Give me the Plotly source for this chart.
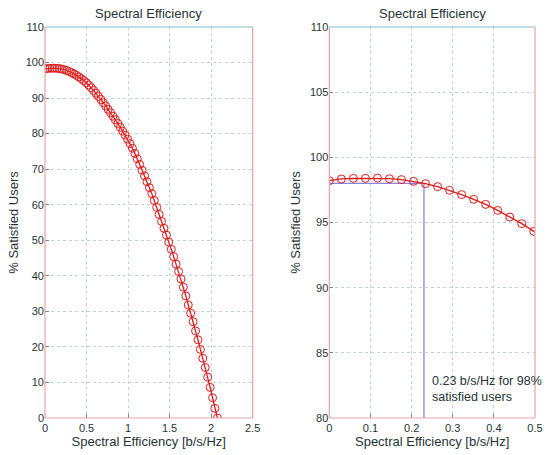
import numpy as np
import plotly.graph_objects as go

# ---- data ----
n_points = 72
x_max = 2.076
se = np.linspace(0, x_max, n_points)  # spectral efficiency sample grid [b/s/Hz]

satisfied = [
    98.21, 98.34, 98.39, 98.39, 98.41, 98.36, 98.29, 98.16, 97.98, 97.75,
    97.47, 97.14, 96.78, 96.39, 95.93, 95.42, 94.91, 94.32, 93.66, 92.94,
    92.17, 91.36, 90.50, 89.60, 88.70, 87.78, 86.84, 85.88, 84.90, 83.90,
    82.86, 81.80, 80.72, 79.60, 78.44, 77.20, 75.90, 74.45, 72.92, 71.34,
    69.70, 68.10, 66.46, 64.79, 63.10, 61.20, 59.25, 57.28, 55.30, 53.37,
    51.44, 49.50, 47.46, 45.39, 43.30, 41.22, 39.10, 36.80, 34.35, 31.80,
    29.50, 27.10, 24.50, 22.00, 19.30, 16.80, 14.20, 11.50, 8.60, 5.70,
    2.70, 0.00,
]

target_se = 0.23
target_pct = 98
note = "0.23 b/s/Hz for 98%<br>satisfied users"

left_xticks = [0, 0.5, 1, 1.5, 2, 2.5]
left_xticklabels = ["0", "0.5", "1", "1.5", "2", "2.5"]
left_yticks = [0, 10, 20, 30, 40, 50, 60, 70, 80, 90, 100, 110]
right_xticks = [0, 0.1, 0.2, 0.3, 0.4, 0.5]
right_xticklabels = ["0", "0.1", "0.2", "0.3", "0.4", "0.5"]
right_yticks = [80, 85, 90, 95, 100, 105, 110]

title_text = "Spectral Efficiency"
xlabel = "Spectral Efficiency [b/s/Hz]"
ylabel = "% Satisfied Users"

# ---- style ----
RED = "#de1a1a"
LAV = "#8c84dc"
TXT = "#1f3434"
GRID = "#c4d4d4"
PINK = "#e6a3a3"
TEAL = "#7fc0c0"
FONT = "Liberation Sans, Arial, sans-serif"

fig = go.Figure()

marker = dict(symbol="circle-open", size=8, color=RED, line=dict(width=1, color=RED))

fig.add_trace(go.Scatter(x=se, y=satisfied, mode="lines+markers",
                         line=dict(color=RED, width=1.3), marker=marker,
                         xaxis="x", yaxis="y", showlegend=False, cliponaxis=True))

fig.add_trace(go.Scatter(x=[0, target_se, target_se], y=[target_pct, target_pct, 80],
                         mode="lines", line=dict(color=LAV, width=1.3),
                         xaxis="x2", yaxis="y2", showlegend=False))

fig.add_trace(go.Scatter(x=se, y=satisfied, mode="lines+markers",
                         line=dict(color=RED, width=1.3), marker=marker,
                         xaxis="x2", yaxis="y2", showlegend=False, cliponaxis=True))

axis_common = dict(
    showgrid=True, gridcolor=GRID, griddash="dot", gridwidth=1,
    zeroline=False, showline=False, ticks="inside", ticklen=4,
    tickcolor="#6a8a8a", tickfont=dict(family=FONT, size=11, color=TXT),
    title_font=dict(family=FONT, size=13, color=TXT),
)

fig.update_layout(
    width=548, height=455,
    margin=dict(l=45, r=5, t=27, b=37),
    paper_bgcolor="white", plot_bgcolor="white",
    font=dict(family=FONT, color=TXT),
    xaxis=dict(domain=[0, 0.4237], range=[0, 2.5], tickvals=left_xticks,
               ticktext=left_xticklabels, anchor="y", ticklabelstandoff=2,
               title=dict(text=xlabel, standoff=1), **axis_common),
    yaxis=dict(domain=[0, 1], range=[0, 110], tickvals=left_yticks, anchor="x",
               title=dict(text=ylabel, standoff=4), **axis_common),
    xaxis2=dict(domain=[0.5803, 1], range=[0, 0.5], tickvals=right_xticks,
                ticktext=right_xticklabels, anchor="y2", ticklabelstandoff=2,
                title=dict(text=xlabel, standoff=1), **axis_common),
    yaxis2=dict(domain=[0, 1], range=[80, 110], tickvals=right_yticks, anchor="x2",
                title=dict(text=ylabel, standoff=6), **axis_common),
)

# frames
shapes = []
for xr, yr in (("x domain", "y domain"), ("x2 domain", "y2 domain")):
    shapes += [
        dict(type="line", xref=xr, yref=yr, x0=0, x1=1, y0=0, y1=0, line=dict(color=PINK, width=1.2)),
        dict(type="line", xref=xr, yref=yr, x0=0, x1=0, y0=0, y1=1, line=dict(color=PINK, width=1.2)),
        dict(type="line", xref=xr, yref=yr, x0=0, x1=1, y0=1, y1=1, line=dict(color=TEAL, width=1.2)),
        dict(type="line", xref=xr, yref=yr, x0=1, x1=1, y0=0, y1=1, line=dict(color=PINK, width=1.2)),
    ]
fig.update_layout(shapes=shapes)

annotations = [
    dict(text=title_text, xref="x domain", yref="y domain", x=0.5, y=1, yshift=4,
         xanchor="center", yanchor="bottom", showarrow=False,
         font=dict(family=FONT, size=13, color=TXT)),
    dict(text=title_text, xref="x2 domain", yref="y2 domain", x=0.5, y=1, yshift=4,
         xanchor="center", yanchor="bottom", showarrow=False,
         font=dict(family=FONT, size=13, color=TXT)),
    dict(text=note, xref="x2", yref="y2", x=0.245, y=82.2, xanchor="left",
         yanchor="middle", align="left", showarrow=False,
         font=dict(family=FONT, size=12.5, color=TXT)),
]
fig.update_layout(annotations=annotations)

fig.write_html("out.html")
